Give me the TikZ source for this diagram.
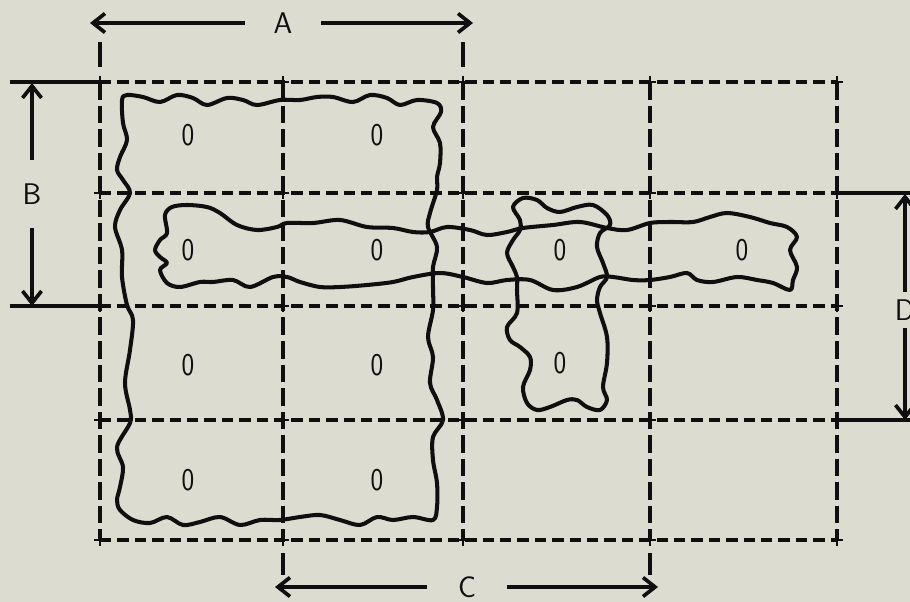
\documentclass[tikz,border=0pt]{standalone}
\usetikzlibrary{arrows.meta}
\definecolor{paper}{RGB}{220,220,209}
\definecolor{ink}{RGB}{15,15,15}
\tikzset{
  gridline/.style={ink, line width=2.1pt, dash pattern=on 6.5pt off 3.4pt},
  gridvline/.style={ink, line width=2.1pt, dash pattern=on 10pt off 3.4pt},
  blob/.style={ink, line width=2.3pt, line join=round},
  dim/.style={ink, line width=2.1pt},
  dimarrow/.style={dim, -{Straight Barb[length=2.4mm,width=3.8mm]}},
  cell/.style={font=\fontsize{18}{18}\sffamily, text=ink, inner sep=0pt, xscale=0.85},
  dimlabel/.style={font=\fontsize{17}{17}\sffamily, text=ink, inner sep=0pt},
}
\begin{document}
\begin{tikzpicture}[x=0.02cm, y=-0.02cm]
    \fill[paper] (0,0) rectangle (910,602);
    \useasboundingbox (0,0) rectangle (910,602);

    % dashed grid, 4 x 4 cells
    \foreach \y in {82,193,306,420,540}
    \draw[gridline] (100,\y) -- (837,\y);
    \foreach \x in {100,283,463,650,837}
    \draw[gridvline] (\x,82) -- (\x,540);
    \foreach \x in {100,283,463,650,837}
    \foreach \y in {82,193,306,420,540}
    \draw[dim, line width=1.6pt] (\x-6,\y) -- (\x+6,\y) (\x,\y-6) -- (\x,\y+6);

    % contents of the cells --- zero1...zero11
    \foreach \n/\x/\y in {1/188/135, 2/377/135, 3/188/250, 4/377/250, 5/560/250, 6/742/250,
                          7/188/365, 8/377/365, 9/560/363, 10/188/480, 11/377/480}
    \node[cell] (zero\n) at (\x,\y) {0};

    % outlines
    \draw[blob] plot[smooth cycle, tension=0.55] coordinates {
      (122,100) (127,95) (143,97) (160,102) (177,95) (193,98) (207,105) (227,98)
      (243,100) (257,105) (280,100) (300,100) (317,97) (333,97) (353,102) (370,95)
      (387,98) (400,105) (417,100) (437,103) (441,112) (433,127) (440,143) (440,163)
      (437,177) (437,190) (430,213) (428,227) (437,247) (433,267) (433,287) (433,310)
      (428,337) (433,357) (430,383) (437,400) (443,420) (433,437) (433,460) (437,483)
      (437,507) (433,520) (413,517) (393,520) (377,517) (360,525) (340,520) (320,515)
      (300,517) (280,520) (260,520) (240,525) (220,517) (200,522) (183,525) (167,517)
      (150,523) (133,520) (120,510) (117,500) (120,487) (123,467) (117,447) (130,423)
      (130,410) (125,383) (130,350) (133,320) (127,305) (122,277) (122,250) (115,227)
      (120,210) (130,193) (123,180) (117,170) (120,157) (127,140) (123,123)};

    \draw[blob] plot[smooth cycle, tension=0.55] coordinates {
      (165,215) (172,207) (187,205) (207,207) (220,213) (237,225) (257,230) (277,227)
      (287,223) (313,223) (340,220) (367,227) (393,228) (413,232) (430,232) (447,227)
      (470,230) (487,235) (507,232) (523,228) (553,225) (580,222) (607,228) (627,230)
      (650,223) (670,222) (693,222) (710,217) (727,213) (750,217) (770,223) (787,227)
      (797,237) (790,250) (797,267) (793,280) (790,290) (773,283) (757,280) (737,277)
      (713,282) (697,280) (687,273) (670,277) (650,280) (633,280) (613,277) (600,277)
      (577,287) (553,290) (530,280) (507,280) (487,283) (463,277) (440,273) (413,277)
      (393,282) (367,285) (340,287) (320,287) (300,282) (287,277) (273,277) (250,287)
      (233,280) (213,282) (200,282) (180,287) (167,283) (160,270) (167,263) (160,257)
      (155,250) (160,240) (167,233)};

    \draw[blob] plot[smooth cycle, tension=0.55] coordinates {
      (513,207) (523,198) (537,200) (547,208) (560,212) (577,207) (593,205) (607,215)
      (610,225) (600,233) (597,247) (603,263) (607,277) (600,287) (597,300) (600,313)
      (607,337) (607,363) (603,387) (607,400) (600,410) (587,407) (577,400) (567,400)
      (550,407) (537,410) (527,403) (523,387) (530,370) (530,357) (520,347) (510,340)
      (507,327) (517,313) (517,290) (517,277) (513,267) (507,253) (513,240) (520,230)
      (520,220)};

    % dimension A
    \coordinate (a1) at (90,23);
    \coordinate (a2) at (473,23);
    \node[dimlabel, minimum width=1.52cm] (A) at (283,23) {A};
    \draw[dimarrow] (A) -- (a1);
    \draw[dimarrow] (A) -- (a2);
    \draw[dim] (100,42) -- (100,67) (463,42) -- (463,67);

    % dimension B
    \coordinate (b1) at (32,83);
    \coordinate (b2) at (32,306);
    \node[dimlabel, minimum height=1.36cm] (B) at (32,194) {B};
    \draw[dimarrow] (B) -- (b1);
    \draw[dimarrow] (B) -- (b2);
    \draw[dim] (10,82) -- (100,82) (10,306) -- (100,306);

    % dimension C
    \coordinate (c1) at (275,587);
    \coordinate (c2) at (658,587);
    \node[dimlabel, minimum width=1.58cm] (C) at (467,587) {C};
    \draw[dimarrow] (C) -- (c1);
    \draw[dimarrow] (C) -- (c2);
    \draw[dim] (283,553) -- (283,575) (650,553) -- (650,575);

    % dimension D
    \coordinate (d1) at (905,194);
    \coordinate (d2) at (905,420);
    \node[dimlabel, minimum height=0.7cm] (D) at (905,310) {D};
    \draw[dimarrow] (D) -- (d1);
    \draw[dimarrow] (D) -- (d2);
    \draw[dim] (837,193) -- (910,193) (837,420) -- (910,420);
\end{tikzpicture}
\end{document}
